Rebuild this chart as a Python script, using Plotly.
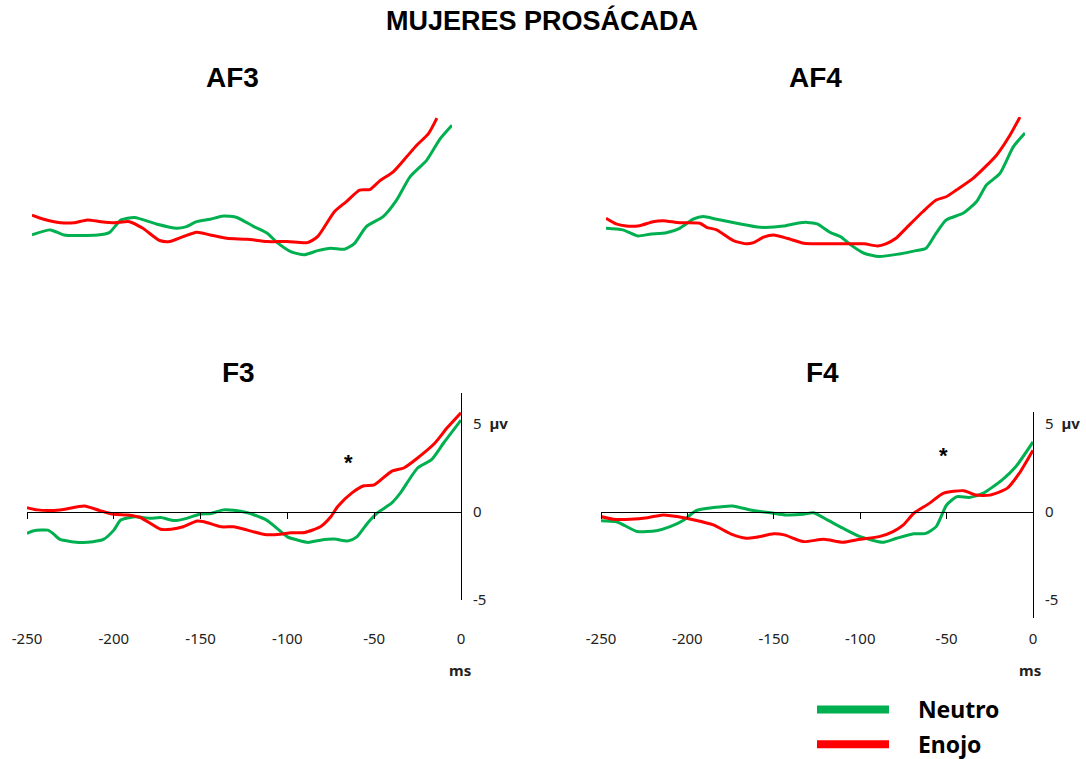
import plotly.graph_objects as go

W, H = 1086, 759
GREEN = "#00B050"
RED = "#FF0000"

# ---- data (ms, µV) ----
af3_ms_neutro = [-250, -239, -231, -211, -204, -197, -189, -176, -164, -158, -152, -144, -136, -128,
                 -118, -110, -104, -96, -88, -80, -72, -64, -58, -51, -41, -33, -25, -15, -7, 0]
af3_neutro = [0.0, 0.29, 0.0, 0.0, 0.13, 0.86, 1.0, 0.63, 0.38, 0.48, 0.76, 0.9, 1.09, 1.0,
              0.48, 0.1, -0.44, -0.95, -1.14, -0.9, -0.76, -0.82, -0.48, 0.48, 1.05, 2.0, 3.33, 4.29, 5.52, 6.29]
af3_ms_enojo = [-250, -243, -233, -225, -217, -209, -201, -192, -184, -174, -168, -160, -152, -144,
                -134, -122, -110, -98, -86, -80, -70, -63, -55, -49, -43, -35, -27, -21, -14, -9]
af3_enojo = [1.14, 0.9, 0.7, 0.7, 0.86, 0.76, 0.7, 0.76, 0.38, -0.32, -0.38, -0.1, 0.15, 0.0,
             -0.19, -0.25, -0.38, -0.38, -0.44, -0.1, 1.33, 1.9, 2.57, 2.6, 3.1, 3.62, 4.48, 5.14, 5.81, 6.7]

af4_ms_neutro = [-250, -240, -231, -224, -214, -206, -198, -192, -184, -172, -158, -144, -136, -130,
                 -124, -116, -110, -104, -96, -87, -75, -65, -59, -53, -47, -37, -29, -23, -15, -7, 0]
af4_neutro = [0.38, 0.29, -0.06, 0.04, 0.13, 0.38, 0.9, 1.05, 0.9, 0.67, 0.44, 0.51, 0.67, 0.72,
              0.63, 0.13, -0.1, -0.57, -1.05, -1.24, -1.09, -0.9, -0.76, 0.1, 0.86, 1.24, 1.9, 2.86, 3.52, 5.05, 5.85]
af4_ms_enojo = [-250, -244, -238, -230, -222, -216, -206, -194, -190, -184, -174, -166, -162, -156,
                -150, -142, -132, -124, -112, -96, -88, -83, -77, -71, -61, -53, -47, -41, -31, -17, -9, -3]
af4_enojo = [0.95, 0.63, 0.51, 0.53, 0.76, 0.82, 0.7, 0.67, 0.44, 0.29, -0.32, -0.51, -0.44, -0.13,
             0.0, -0.19, -0.48, -0.51, -0.51, -0.51, -0.63, -0.51, -0.19, 0.38, 1.33, 2.0, 2.19, 2.57, 3.24, 4.57, 5.71, 6.76]

f3_ms_neutro = [-250, -246, -238, -235, -231, -219, -212, -206, -200, -196, -188, -179, -173, -165,
                -158, -150, -144, -137, -131, -123, -119, -112, -106, -100, -94, -88, -81, -73, -65,
                -60, -54, -48, -40, -35, -25, -17, -10, 0]
f3_neutro = [-1.24, -1.09, -1.05, -1.24, -1.58, -1.75, -1.71, -1.58, -1.05, -0.48, -0.29, -0.38, -0.34, -0.51,
             -0.38, -0.13, -0.1, 0.1, 0.08, -0.06, -0.19, -0.48, -0.95, -1.43, -1.62, -1.75, -1.62, -1.56, -1.66,
             -1.43, -0.67, -0.06, 0.48, 1.05, 2.48, 2.95, 3.9, 5.2]
f3_ms_enojo = [-250, -244, -231, -217, -208, -200, -192, -185, -173, -167, -160, -152, -148, -138,
               -131, -123, -113, -104, -98, -90, -81, -75, -71, -63, -56, -50, -40, -33, -25, -15, -8, 0]
f3_enojo = [0.23, 0.1, 0.1, 0.32, 0.06, -0.15, -0.19, -0.32, -1.0, -1.0, -0.86, -0.53, -0.57, -0.86,
            -0.86, -1.05, -1.3, -1.28, -1.2, -1.18, -0.86, -0.29, 0.29, 1.05, 1.47, 1.52, 2.29, 2.48, 3.05, 3.9, 4.76, 5.62]

f4_ms_neutro = [-250, -241, -229, -218, -210, -202, -195, -185, -174, -162, -152, -143, -133, -127,
                -119, -110, -100, -87, -79, -69, -62, -56, -50, -44, -37, -29, -18, -10, 0]
f4_neutro = [-0.51, -0.57, -1.13, -1.08, -0.85, -0.47, 0.06, 0.23, 0.32, 0.06, -0.06, -0.19, -0.15, -0.06,
             -0.47, -0.94, -1.42, -1.74, -1.51, -1.26, -1.23, -0.85, 0.38, 0.85, 0.81, 1.04, 1.79, 2.55, 3.96]
f4_ms_enojo = [-250, -243, -233, -223, -214, -206, -196, -185, -175, -166, -160, -150, -144, -133,
               -121, -110, -100, -89, -81, -75, -69, -60, -52, -40, -33, -25, -15, -8, 0]
f4_enojo = [-0.28, -0.43, -0.43, -0.34, -0.19, -0.28, -0.47, -0.75, -1.26, -1.51, -1.45, -1.26, -1.32, -1.7,
            -1.57, -1.74, -1.57, -1.42, -1.13, -0.75, -0.09, 0.47, 1.04, 1.19, 0.94, 0.94, 1.32, 2.17, 3.49]

x_ticks = [-250, -200, -150, -100, -50, 0]
x_ticktext = ["-250", "-200", "-150", "-100", "-50", "0"]
y_ticks = [-5, 0, 5]
y_ticktext = ["-5", "0", "5\u00a0\u00a0<b>µv</b>"]


# screen pixel -> paper coordinate
def px_x(p):
    return p / W


def px_y(p):
    return 1 - p / H


fig = go.Figure()

panels = [
    ("", af3_ms_neutro, af3_neutro, af3_ms_enojo, af3_enojo),
    ("2", af4_ms_neutro, af4_neutro, af4_ms_enojo, af4_enojo),
    ("3", f3_ms_neutro, f3_neutro, f3_ms_enojo, f3_enojo),
    ("4", f4_ms_neutro, f4_neutro, f4_ms_enojo, f4_enojo),
]
for k, msn, vn, mse, ve in panels:
    fig.add_trace(go.Scatter(x=msn, y=vn, mode="lines", line=dict(color=GREEN, width=3, shape="spline", smoothing=0.6),
                             xaxis="x" + k, yaxis="y" + k, showlegend=False, hoverinfo="skip"))
    fig.add_trace(go.Scatter(x=mse, y=ve, mode="lines", line=dict(color=RED, width=3, shape="spline", smoothing=0.6),
                             xaxis="x" + k, yaxis="y" + k, showlegend=False, hoverinfo="skip"))

# legend entries (thick swatches)
fig.add_trace(go.Scatter(x=[None], y=[None], mode="lines", line=dict(color=GREEN, width=8),
                         name="\u00a0\u00a0\u00a0\u00a0<b>Neutro</b>", xaxis="x3", yaxis="y3", legendgroup="a"))
fig.add_trace(go.Scatter(x=[None], y=[None], mode="lines", line=dict(color=RED, width=8),
                         name="\u00a0\u00a0\u00a0\u00a0<b>Enojo</b>", xaxis="x3", yaxis="y3", legendgroup="b"))

# dummy traces so the label axes render
fig.add_trace(go.Scatter(x=[None], y=[None], xaxis="x5", yaxis="y3", showlegend=False))
fig.add_trace(go.Scatter(x=[None], y=[None], xaxis="x6", yaxis="y4", showlegend=False))

# domains / ranges
top_rng = [-3.5, 6.76]
top_dom = [px_y(296), px_y(117)]
f3_rng = [-5.02, 6.74]
f3_dom = [px_y(600), px_y(393)]
f4_rng = [-6.04, 5.66]
f4_dom = [px_y(618), px_y(412)]


def zero_pos(dom, rng):
    return dom[0] + (0 - rng[0]) / (rng[1] - rng[0]) * (dom[1] - dom[0])


hidden = dict(visible=False, showgrid=False, zeroline=False, automargin=False)
tick_font = dict(family="Noto Sans", size=15, color="#222")

fig.update_layout(
    width=W, height=H,
    margin=dict(l=0, r=0, t=0, b=0, autoexpand=False),
    plot_bgcolor="white", paper_bgcolor="white",
    xaxis=dict(domain=[px_x(32), px_x(452)], range=[-250, 0], **hidden),
    yaxis=dict(domain=top_dom, range=top_rng, **hidden),
    xaxis2=dict(domain=[px_x(606), px_x(1025)], range=[-250, 0], anchor="y2", **hidden),
    yaxis2=dict(domain=top_dom, range=top_rng, anchor="x2", **hidden),
    xaxis3=dict(domain=[px_x(27), px_x(461)], range=[-250, 0], anchor="free", position=zero_pos(f3_dom, f3_rng),
                showline=True, linecolor="black", linewidth=1, ticks="outside", ticklen=6, tickcolor="black",
                tickvals=x_ticks, showticklabels=False, showgrid=False, zeroline=False, automargin=False),
    yaxis3=dict(domain=f3_dom, range=f3_rng, anchor="x3", side="right", showline=True, linecolor="black",
                linewidth=1, tickvals=y_ticks, ticktext=y_ticktext, ticks="", ticklabelstandoff=8,
                tickfont=tick_font, showgrid=False, zeroline=False, automargin=False),
    xaxis4=dict(domain=[px_x(601), px_x(1033)], range=[-250, 0], anchor="free", position=zero_pos(f4_dom, f4_rng),
                showline=True, linecolor="black", linewidth=1, ticks="outside", ticklen=6, tickcolor="black",
                tickvals=x_ticks, showticklabels=False, showgrid=False, zeroline=False, automargin=False),
    yaxis4=dict(domain=f4_dom, range=f4_rng, anchor="x4", side="right", showline=True, linecolor="black",
                linewidth=1, tickvals=y_ticks, ticktext=y_ticktext, ticks="", ticklabelstandoff=8,
                tickfont=tick_font, showgrid=False, zeroline=False, automargin=False),
    # tick labels shown below the panels
    xaxis5=dict(overlaying="x3", range=[-250, 0], anchor="free", position=px_y(628), showline=False,
                ticks="", tickvals=x_ticks, ticktext=x_ticktext, tickfont=tick_font, showgrid=False,
                zeroline=False, automargin=False),
    xaxis6=dict(overlaying="x4", range=[-250, 0], anchor="free", position=px_y(628), showline=False,
                ticks="", tickvals=x_ticks, ticktext=x_ticktext, tickfont=tick_font, showgrid=False,
                zeroline=False, automargin=False),
    legend=dict(x=px_x(812), y=px_y(688), xanchor="left", yanchor="top", itemwidth=72,
                font=dict(family="Noto Sans", size=23, color="black"), tracegroupgap=2,
                bgcolor="rgba(0,0,0,0)"),
)

title_font = dict(family="Liberation Sans", size=28, color="black")
ann = [
    dict(text="<b>MUJERES PROSÁCADA</b>", x=px_x(542), y=px_y(21), font=dict(family="Liberation Sans", size=27, color="black")),
    dict(text="<b>AF3</b>", x=px_x(232), y=px_y(77), font=title_font),
    dict(text="<b>AF4</b>", x=px_x(815), y=px_y(77), font=title_font),
    dict(text="<b>F3</b>", x=px_x(238), y=px_y(372), font=title_font),
    dict(text="<b>F4</b>", x=px_x(822), y=px_y(372), font=title_font),
    dict(text="<b>ms</b>", x=px_x(460), y=px_y(670), font=dict(family="Noto Sans", size=15, color="#222")),
    dict(text="<b>ms</b>", x=px_x(1030), y=px_y(670), font=dict(family="Noto Sans", size=15, color="#222")),
]
for a in ann:
    fig.add_annotation(xref="paper", yref="paper", showarrow=False, xanchor="center", yanchor="middle", **a)

fig.add_annotation(text="<b>*</b>", x=-65, y=2.8, xref="x3", yref="y3", showarrow=False,
                   font=dict(family="Liberation Sans", size=22, color="black"))
fig.add_annotation(text="<b>*</b>", x=-52, y=3.2, xref="x4", yref="y4", showarrow=False,
                   font=dict(family="Liberation Sans", size=22, color="black"))

# drop the default page margin so the figure sits at the window corner
fig.write_html("out.html", config={"displayModeBar": False},
               post_script="document.body.style.margin='0';")
